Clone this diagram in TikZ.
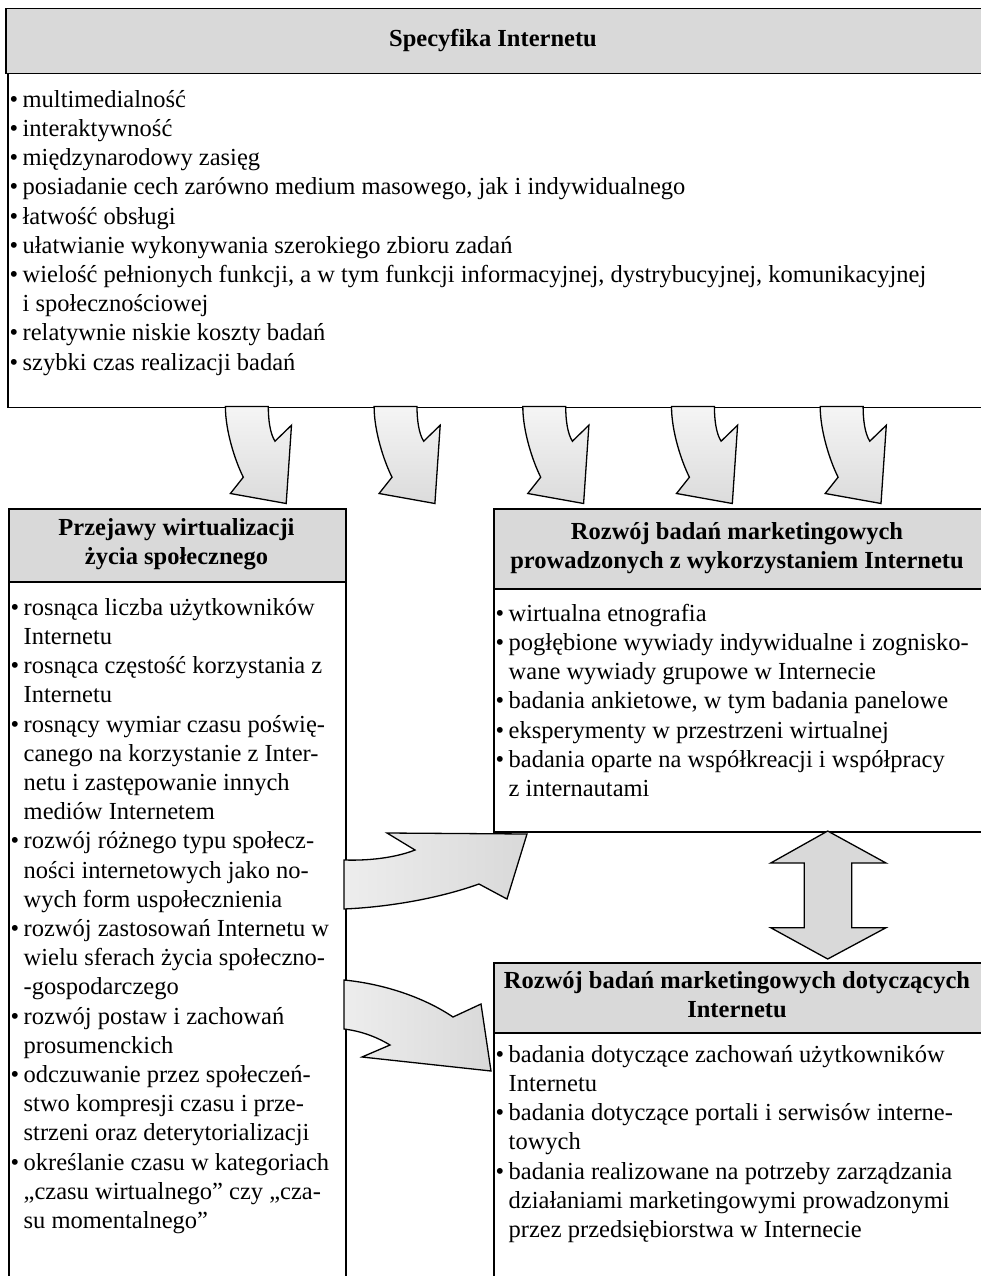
\documentclass[tikz,border=0pt]{standalone}
\usepackage{fontspec}
\setmainfont{Liberation Serif}
\definecolor{hdrgray}{RGB}{217,217,217}
\newcommand\bl{\makebox[19.5pt][l]{\hspace{6.5pt}\textbullet}}
\newcommand\cl{\hspace*{19.5pt}}
\tikzset{
  hdr/.style={draw, line width=1.5pt, fill=hdrgray, anchor=north west, inner sep=0pt},
  bodybox/.style={draw, line width=1.5pt, fill=white, anchor=north west, inner sep=0pt},
  hdrtext/.style={align=center, font=\fontsize{24.5}{29.2}\selectfont\bfseries, inner sep=0pt},
  bodytext/.style={align=left, anchor=north west, inner sep=0pt},
  blockarrow/.style={draw, line width=1.3pt, line join=miter},
  downarr/.pic={\path[blockarrow, top color=gray!8, bottom color=gray!28]
    (0,0) .. controls (0,25) and (10,55) .. (17.9,70.7) -- (5,87) -- (60.8,97)
    -- (66.1,18.7) -- (49.6,34.7) .. controls (44.6,27) and (42.9,13) .. (42.9,0) -- cycle;}
}
\begin{document}
\begin{tikzpicture}[x=1pt,y=-1pt, font=\fontsize{24.5}{29.2}\selectfont]
\useasboundingbox (0,0) rectangle (981,1276);
\clip (0,0) rectangle (981,1276);
% boxes
\node[hdr, minimum width=990pt, minimum height=65pt] (tophdr) at (5,8) {};
\node[bodybox, minimum width=990pt, minimum height=333.5pt] (topbody) at (7,73) {};
\node[hdr, minimum width=337pt, minimum height=73pt] (lefthdr) at (8,508) {};
\node[bodybox, minimum width=337pt, minimum height=720pt] (leftbody) at (8,581) {};
\node[hdr, minimum width=500pt, minimum height=80pt] (rthdr) at (493,508) {};
\node[bodybox, minimum width=500pt, minimum height=243pt] (rtbody) at (493,588) {};
\node[hdr, minimum width=500pt, minimum height=70pt] (rbhdr) at (493,962) {};
\node[bodybox, minimum width=500pt, minimum height=300pt] (rbbody) at (493,1032) {};
% arrows from top box
\foreach \k in {0,...,4} {
  \pic at ({225.4+\k*148.7},406.5) {downarr};
}
% curved arrow to upper right box
\path[blockarrow, left color=gray!14, right color=gray!30]
  (344,860) .. controls (375,861) and (400,856) .. (415,850) -- (387,833) -- (527,834)
  -- (507,899) -- (479,884) .. controls (440,898) and (390,907) .. (344,909) -- cycle;
% curved arrow to lower right box
\path[blockarrow, left color=gray!14, right color=gray!30]
  (344,980) .. controls (385,984) and (425,998) .. (453,1017) -- (481,1004) -- (491,1071)
  -- (362,1057) -- (390,1045) .. controls (375,1036) and (360,1031) .. (344,1029) -- cycle;
% double arrow
\path[blockarrow, left color=gray!30, middle color=gray!6, right color=gray!30]
  (827.7,831) -- (886,863) -- (851.7,863) -- (851.7,927.7) -- (886,927.7) -- (827.7,959)
  -- (770.7,927.7) -- (804.3,927.7) -- (804.3,863) -- (770.7,863) -- cycle;
% header texts
\node[hdrtext] (t1) at (493,40.5) {\strut Specyfika Internetu};
\node[hdrtext] (t2) at (176.5,544.5) {\strut Przejawy wirtualizacji\\\strut życia społecznego};
\node[hdrtext] (t3) at (737,548) {\strut Rozwój badań marketingowych\\\strut prowadzonych z wykorzystaniem Internetu};
\node[hdrtext] (t4) at (737,997) {\strut Rozwój badań marketingowych dotyczących\\\strut Internetu};
% body texts
\node[bodytext] (b1) at (3,86.6) {\strut\bl multimedialność\\
\bl interaktywność\\
\bl międzynarodowy zasięg\\
\bl posiadanie cech zarówno medium masowego, jak i indywidualnego\\
\bl łatwość obsługi\\
\bl ułatwianie wykonywania szerokiego zbioru zadań\\
\bl wielość pełnionych funkcji, a w tym funkcji informacyjnej, dystrybucyjnej, komunikacyjnej\\
\cl i społecznościowej\\
\bl relatywnie niskie koszty badań\\
\bl szybki czas realizacji badań};
\node[bodytext] (b2) at (4,594.6) {\strut\bl rosnąca liczba użytkowników\\
\cl Internetu\\
\bl rosnąca częstość korzystania z\\
\cl Internetu\\
\bl rosnący wymiar czasu poświę-\\
\cl canego na korzystanie z Inter-\\
\cl netu i zastępowanie innych\\
\cl mediów Internetem\\
\bl rozwój różnego typu społecz-\\
\cl ności internetowych jako no-\\
\cl wych form uspołecznienia\\
\bl rozwój zastosowań Internetu w\\
\cl wielu sferach życia społeczno-\\
\cl -gospodarczego\\
\bl rozwój postaw i zachowań\\
\cl prosumenckich\\
\bl odczuwanie przez społeczeń-\\
\cl stwo kompresji czasu i prze-\\
\cl strzeni oraz deterytorializacji\\
\bl określanie czasu w kategoriach\\
\cl „czasu wirtualnego” czy „cza-\\
\cl su momentalnego”};
\node[bodytext] (b3) at (489,600.6) {\strut\bl wirtualna etnografia\\
\bl pogłębione wywiady indywidualne i zognisko-\\
\cl wane wywiady grupowe w Internecie\\
\bl badania ankietowe, w tym badania panelowe\\
\bl eksperymenty w przestrzeni wirtualnej\\
\bl badania oparte na współkreacji i współpracy\\
\cl z internautami};
\node[bodytext] (b4) at (489,1041.6) {\strut\bl badania dotyczące zachowań użytkowników\\
\cl Internetu\\
\bl badania dotyczące portali i serwisów interne-\\
\cl towych\\
\bl badania realizowane na potrzeby zarządzania\\
\cl działaniami marketingowymi prowadzonymi\\
\cl przez przedsiębiorstwa w Internecie};
\end{tikzpicture}
\end{document}
